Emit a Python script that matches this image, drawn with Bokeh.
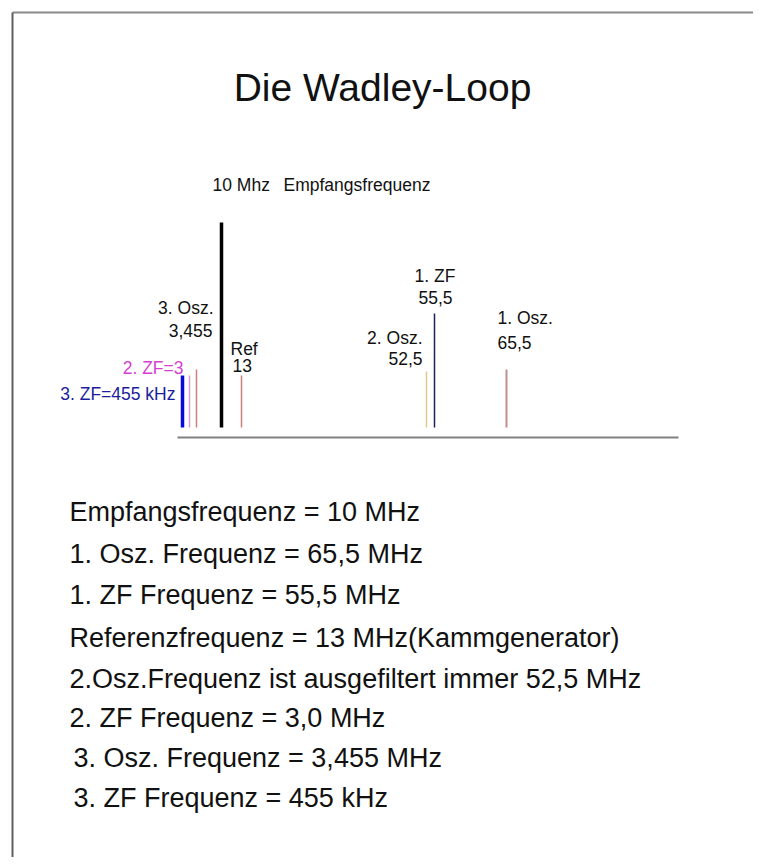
from bokeh.plotting import figure
from bokeh.models import Range1d, ColumnDataSource
from bokeh.core.properties import value
from bokeh.embed import file_html
from bokeh.resources import INLINE

# ---------------- data ----------------
title_text = "Die Wadley-Loop"
signal_names = ["3. ZF", "2. ZF", "3. Osz.", "Empfangsfrequenz", "Ref", "2. Osz.", "1. ZF", "1. Osz."]
freq_mhz = [0.455, 3.0, 3.455, 10.0, 13.0, 52.5, 55.5, 65.5]
# schematic position of each spectral line along the (non-linear) frequency axis
axis_pos = [182, 189, 196, 221, 241, 426, 434, 506]
# schematic line heights (relative level above the axis)
level = [52, 52, 58, 205, 52, 56, 114, 58]

label_texts = ["10 Mhz", "Empfangsfrequenz", "3. Osz.", "3,455", "Ref", "13",
               "2. ZF=3", "3. ZF=455 kHz", "1. ZF", "55,5", "2. Osz.", "52,5",
               "1. Osz.", "65,5"]

summary_lines = [
    "Empfangsfrequenz = 10 MHz",
    "1. Osz. Frequenz = 65,5 MHz",
    "1. ZF Frequenz = 55,5 MHz",
    "Referenzfrequenz = 13 MHz(Kammgenerator)",
    "2.Osz.Frequenz  ist ausgefiltert immer 52,5 MHz",
    "2. ZF Frequenz = 3,0 MHz",
    "3. Osz. Frequenz = 3,455 MHz",
    "3. ZF Frequenz = 455 kHz",
]

# ---------------- styles / layout ----------------
FONT = value("Liberation Sans")
line_colors = ["#0a0ad8", "#d8a0d0", "#c88080", "#000000", "#c88080", "#e2c890", "#1e1e5a", "#c09090"]
line_widths = [3.5, 1.5, 1.5, 3.5, 1.5, 1.5, 1.5, 2.0]
AXIS_Y = 427

label_x = [212, 283, 213, 212, 230, 232, 183, 175, 414, 418, 422, 422, 497, 497]
label_y = [184, 184, 307, 330, 348, 365, 367, 393, 275, 297, 337, 358, 317, 342]
label_align = ["left", "left", "right", "right", "left", "left", "right", "right",
               "left", "left", "right", "right", "left", "left"]
label_color = ["#111111", "#111111", "#111111", "#111111", "#111111", "#111111",
               "#d43fcf", "#1c1c9c", "#111111", "#111111", "#111111", "#111111",
               "#111111", "#111111"]

summary_x = [69, 69, 69, 69, 69, 69, 73, 73]
summary_y = [511, 553, 594, 637, 678, 717, 757, 797]

W, H = 753, 857
p = figure(width=W, height=H, output_backend="svg", toolbar_location=None,
           x_range=Range1d(0, W), y_range=Range1d(H, 0),
           min_border=0, outline_line_color=None)
p.axis.visible = False
p.grid.visible = False
p.background_fill_color = "white"

# frame border (top and left visible)
p.segment(x0=[12, 12], y0=[12, 12], x1=[W, 12], y1=[12, H],
          line_color=["#8a8a8a", "#606060"], line_width=2)

# title
p.text(x=[382], y=[87], text=[title_text], text_font=FONT, text_font_size="39px",
       text_align="center", text_baseline="alphabetic", text_color="#111111")

# frequency axis line
p.segment(x0=[177], y0=[437], x1=[678], y1=[437], line_color="#808080", line_width=2)

# spectral lines
src = ColumnDataSource(dict(
    x=axis_pos,
    y0=[AXIS_Y] * len(axis_pos),
    y1=[AXIS_Y - h for h in level],
    color=line_colors,
    w=line_widths,
    name=signal_names,
    f=freq_mhz,
))
p.segment(x0="x", y0="y0", x1="x", y1="y1", line_color="color", line_width="w", source=src)

# labels
lsrc = ColumnDataSource(dict(x=label_x, y=label_y, t=label_texts, a=label_align, c=label_color))
p.text(x="x", y="y", text="t", text_align="a", text_color="c", text_font=FONT,
       text_font_size="17.5px", text_baseline="alphabetic", source=lsrc)

# summary text
ssrc = ColumnDataSource(dict(x=summary_x, y=summary_y, t=summary_lines))
p.text(x="x", y="y", text="t", text_font=FONT, text_font_size="27px",
       text_align="left", text_baseline="alphabetic", text_color="#111111", source=ssrc)

open("out.html", "w").write(file_html(p, INLINE))
